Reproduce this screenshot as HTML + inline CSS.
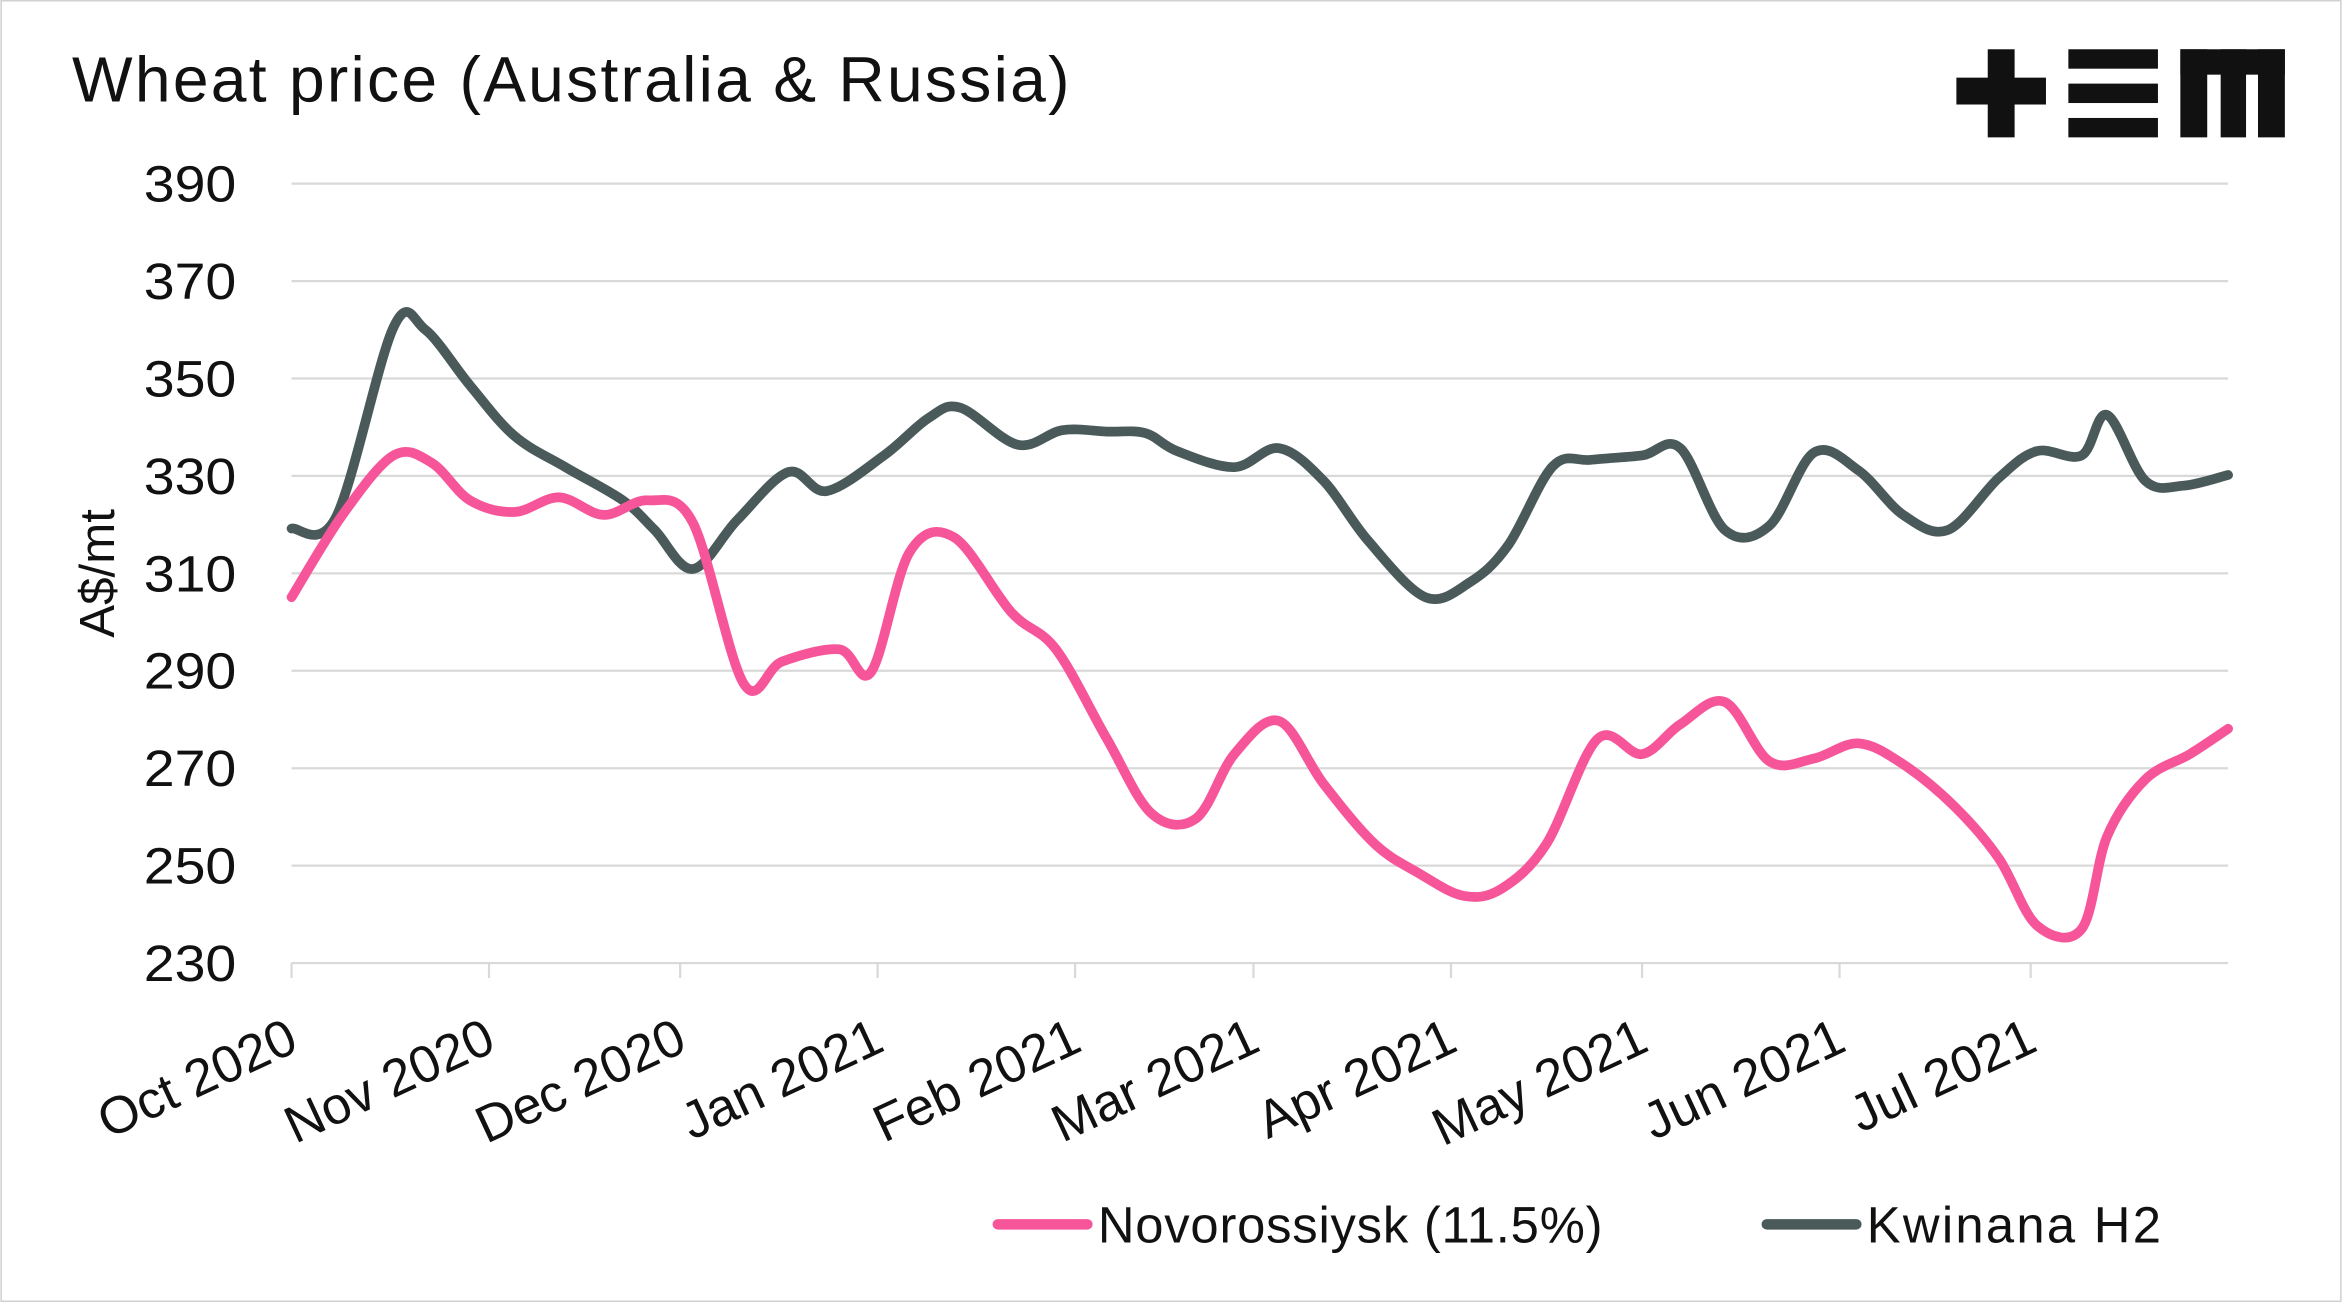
<!DOCTYPE html>
<html><head><meta charset="utf-8"><style>
html,body{margin:0;padding:0;background:#fff;}
svg{display:block;font-family:"Liberation Sans",sans-serif;}
</style></head><body>
<svg id="chart" width="2342" height="1302" viewBox="0 0 1568 872" xmlns="http://www.w3.org/2000/svg">
<rect x="0.5" y="0.5" width="1567" height="871" fill="#fff" stroke="#d0d0d0"/>
<text x="48" y="68" font-size="43" fill="#111" textLength="668" lengthAdjust="spacing">Wheat price (Australia &amp; Russia)</text>
<g fill="#111">
<rect x="1310" y="52" width="60" height="18"/><rect x="1331" y="33" width="18" height="59"/>
<rect x="1385" y="33" width="60" height="13"/><rect x="1385" y="56" width="60" height="13"/><rect x="1385" y="79" width="60" height="13"/>
<rect x="1460" y="33" width="70" height="17"/><rect x="1460" y="33" width="18" height="59"/><rect x="1487" y="33" width="17" height="59"/><rect x="1512" y="33" width="18" height="59"/>
</g>
<g id="grid"></g><g id="yticks"></g><g id="xticks"></g><g id="series"></g>
<text transform="translate(76,384) rotate(-90)" text-anchor="middle" font-size="33" fill="#111">A$/mt</text>
<g>
<g><line x1="668" y1="820" x2="728" y2="820" stroke="#f7559a" stroke-width="7" stroke-linecap="round"/><text x="735" y="832" font-size="34" fill="#111" textLength="338" lengthAdjust="spacing">Novorossiysk (11.5%)</text></g>
<g><line x1="1183" y1="820" x2="1243" y2="820" stroke="#4a5a5a" stroke-width="7" stroke-linecap="round"/><text x="1250" y="832" font-size="34" fill="#111" textLength="197" lengthAdjust="spacing">Kwinana H2</text></g>
</g>
</svg>
<script>
const yTicks=[230,250,270,290,310,330,350,370,390];
const monthLabels=["Oct 2020","Nov 2020","Dec 2020","Jan 2021","Feb 2021","Mar 2021","Apr 2021","May 2021","Jun 2021","Jul 2021"];
const monthDays=[0,31,61,92,123,151,182,212,243,273];
const kwDays=[0,7,16,21,28,35,43,52,57,63,70,78,84,93,100,105,114,121,128,134,139,148,155,162,169,178,185,191,198,204,212,218,225,232,239,246,253,260,268,274,281,285,291,297,304];
const kwVals=[319.2,321.6,360.5,360.0,348.6,338.2,331.8,325,318.9,310.9,321,330.8,326.9,334.2,341.9,344,336.4,339.4,339.1,338.8,335.1,331.8,335.7,329,316.7,305.1,308.2,315.8,332,333.3,334.2,335.7,318.9,319.8,334.8,331.1,322,318.9,329.6,335.1,334.2,342.5,329,328,330.2];
const noDays=[0,8,16,22,28,35,42,49,56,63,71,77,86,91,97,104,113,120,128,135,142,148,155,162,170,177,184,190,197,205,212,218,225,232,239,246,253,261,268,274,281,285,291,298,304];
const noVals=[305.1,322,334.2,332.7,325,322.6,325.6,322,325,320.4,287.3,291.9,294.4,289.8,314.3,317.4,302,294.4,276,260.7,259.7,272.9,279.7,266.8,254.5,248.4,243.8,245.3,254.5,276,272.9,279,283.6,271.4,272,275.1,270.8,262.2,251.5,237.7,237,256,267.7,272.9,278.1];
const NS="http://www.w3.org/2000/svg";
const X0=195,X1=1492,Y0=645,Y1=123,D1=304,V0=230,V1=390;
const xs=d=>X0+(X1-X0)*d/D1;
const ys=v=>Y0-(Y0-Y1)*(v-V0)/(V1-V0);
function mk(t,a,p){const e=document.createElementNS(NS,t);for(const k in a)e.setAttribute(k,a[k]);p.appendChild(e);return e;}
const grid=document.getElementById('grid'),yt=document.getElementById('yticks'),xt=document.getElementById('xticks'),sr=document.getElementById('series');
yTicks.forEach(v=>{
 if(v>V0){const l=mk('line',{x1:X0,x2:X1,y1:ys(v),y2:ys(v),stroke:'#d9d9d9','stroke-width':1.5},grid);
 
 }
 const t=mk('text',{x:158,y:ys(v)+12,'text-anchor':'end','font-size':34,fill:'#111',textLength:62,lengthAdjust:'spacingAndGlyphs'},yt);t.textContent=v;
 
 
});
const ax=mk('line',{x1:X0,x2:X1,y1:Y0,y2:Y0,stroke:'#d9d9d9','stroke-width':1.5},xt);


monthDays.forEach((d,i)=>{
 const x=xs(d);
 const tk=mk('line',{x1:x,x2:x,y1:Y0,y2:Y0+10,stroke:'#d9d9d9','stroke-width':1.5},xt);
 
 
 const t=mk('text',{x:x+6,y:Y0+58,'text-anchor':'end','font-size':35,fill:'#111',transform:`rotate(-25 ${x+6} ${Y0+58})`},xt);
 t.textContent=monthLabels[i];
 
 
});
function path(ds,vs){
 const p=ds.map((d,i)=>[xs(d),ys(vs[i])]);
 let s=`M${p[0][0]},${p[0][1]}`;
 for(let i=0;i<p.length-1;i++){
  const a=p[i-1]||p[i],b=p[i],c=p[i+1],e=p[i+2]||c;
  s+=` C${b[0]+(c[0]-a[0])/6},${b[1]+(c[1]-a[1])/6} ${c[0]-(e[0]-b[0])/6},${c[1]-(e[1]-b[1])/6} ${c[0]},${c[1]}`;
 }
 return s;
}
const kw=mk('path',{d:path(kwDays,kwVals),fill:'none',stroke:'#4a5a5a','stroke-width':6.5,'stroke-linejoin':'round','stroke-linecap':'round'},sr);


const no=mk('path',{d:path(noDays,noVals),fill:'none',stroke:'#f7559a','stroke-width':6.5,'stroke-linejoin':'round','stroke-linecap':'round'},sr);


</script>
</body></html>
